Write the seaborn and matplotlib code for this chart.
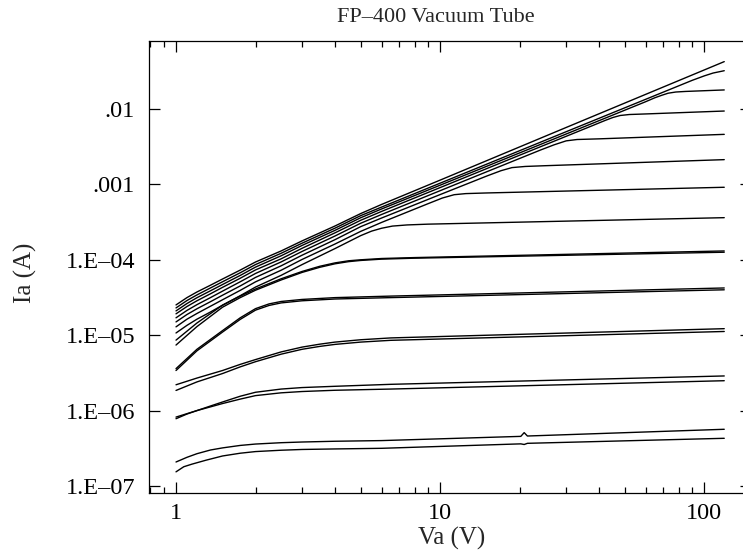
import matplotlib

matplotlib.use("Agg")

import matplotlib.pyplot as plt
import pandas as pd
import seaborn as sns
from matplotlib.ticker import LogLocator, NullFormatter, NullLocator

# plate voltage (V) / plate current (A), one pair of lists per trace
low_va = [1, 1.1, 1.2, 1.35, 1.5, 1.75, 2, 2.5, 3, 4, 5, 6]

va_top = low_va + [10, 30, 119]
ia_top = [2.52e-5, 3.15e-5, 3.74e-5, 4.6e-5, 5.56e-5, 7.3e-5, 9.35e-5, 1.31e-4, 1.78e-4,
          2.81e-4, 4.1e-4, 5.42e-4, 1.14e-3, 5.69e-3, 4.25e-2]

va_c1 = low_va + [30, 90, 100, 108, 119]
ia_c1 = [2.30e-5, 2.88e-5, 3.42e-5, 4.23e-5, 5.11e-5, 6.73e-5, 8.65e-5, 1.22e-4, 1.66e-4,
         2.63e-4, 3.85e-4, 5.0e-4, 5.0e-3, 2.40e-2, 2.75e-2, 3.0e-2, 3.22e-2]

va_c2 = low_va + [30, 60, 65, 69, 73, 78, 85, 119]
ia_c2 = [2.10e-5, 2.63e-5, 3.14e-5, 3.88e-5, 4.70e-5, 6.2e-5, 8.0e-5, 1.13e-4, 1.55e-4,
         2.46e-4, 3.61e-4, 4.72e-4, 4.66e-3, 1.25e-2, 1.41e-2, 1.52e-2, 1.62e-2, 1.68e-2,
         1.71e-2, 1.79e-2]

va_c3 = low_va + [20, 38, 42, 45, 48, 52, 60, 119]
ia_c3 = [1.92e-5, 2.4e-5, 2.86e-5, 3.54e-5, 4.31e-5, 5.69e-5, 7.34e-5, 1.03e-4, 1.42e-4,
         2.28e-4, 3.34e-4, 4.38e-4, 2.44e-3, 6.08e-3, 7.02e-3, 7.7e-3, 8.2e-3, 8.45e-3,
         8.6e-3, 9.4e-3]

va_c4 = low_va + [15, 24, 27, 30, 33, 40, 119]
ia_c4 = [1.70e-5, 2.13e-5, 2.54e-5, 3.15e-5, 3.84e-5, 5.11e-5, 6.59e-5, 9.37e-5, 1.29e-4,
         2.07e-4, 3.05e-4, 3.99e-4, 1.47e-3, 2.86e-3, 3.35e-3, 3.78e-3, 3.94e-3, 4.02e-3,
         4.61e-3]

va_c5 = low_va + [10, 15, 17, 18.7, 21, 25, 119]
ia_c5 = [1.50e-5, 1.88e-5, 2.24e-5, 2.78e-5, 3.39e-5, 4.5e-5, 5.84e-5, 8.32e-5, 1.15e-4,
         1.85e-4, 2.75e-4, 3.58e-4, 7.33e-4, 1.29e-3, 1.52e-3, 1.67e-3, 1.73e-3, 1.77e-3,
         2.13e-3]

va_c6 = low_va + [9, 10.2, 11.3, 12.5, 15, 119]
ia_c6 = [1.29e-5, 1.63e-5, 1.94e-5, 2.42e-5, 2.95e-5, 3.93e-5, 5.10e-5, 7.27e-5, 1.01e-4,
         1.62e-4, 2.38e-4, 3.13e-4, 5.55e-4, 6.6e-4, 7.3e-4, 7.55e-4, 7.7e-4, 9.16e-4]

va_c7 = [1, 1.1, 1.2, 1.35, 1.5, 1.75, 2, 2.5, 3, 4, 5, 5.5, 6, 6.6, 7.5, 9, 119]
ia_c7 = [1.07e-5, 1.35e-5, 1.63e-5, 2.03e-5, 2.5e-5, 3.34e-5, 4.35e-5, 6.22e-5, 8.63e-5,
         1.41e-4, 2.09e-4, 2.4e-4, 2.62e-4, 2.8e-4, 2.9e-4, 2.97e-4, 3.62e-4]

va_p1 = [1, 1.2, 1.5, 1.75, 2, 2.5, 3, 3.5, 4, 4.5, 5, 6, 8, 119]
ia_p1a = [8.6e-6, 1.45e-5, 2.5e-5, 3.3e-5, 4.1e-5, 5.6e-5, 7.0e-5, 8.2e-5, 9.1e-5, 9.7e-5,
          1.0e-4, 1.04e-4, 1.07e-4, 1.31e-4]
ia_p1b = [7.4e-6, 1.3e-5, 2.35e-5, 3.15e-5, 3.95e-5, 5.4e-5, 6.8e-5, 7.95e-5, 8.85e-5,
          9.45e-5, 9.8e-5, 1.02e-4, 1.05e-4, 1.26e-4]

va_p2 = [1, 1.2, 1.5, 1.75, 2, 2.25, 2.5, 3, 4, 6.5, 119]
ia_p2a = [3.6e-6, 6.5e-6, 1.15e-5, 1.7e-5, 2.25e-5, 2.6e-5, 2.8e-5, 2.98e-5, 3.15e-5,
          3.3e-5, 4.23e-5]
ia_p2b = [3.4e-6, 6.2e-6, 1.1e-5, 1.62e-5, 2.15e-5, 2.48e-5, 2.68e-5, 2.86e-5, 3.02e-5,
          3.15e-5, 4.0e-5]

va_p3 = [1, 1.2, 1.5, 1.75, 2, 2.5, 3, 3.5, 4, 5, 6.5, 10, 119]
ia_p3a = [2.2e-6, 2.7e-6, 3.4e-6, 4.1e-6, 4.75e-6, 6.0e-6, 6.95e-6, 7.6e-6, 8.1e-6, 8.7e-6,
          9.2e-6, 9.6e-6, 1.22e-5]
ia_p3b = [1.85e-6, 2.4e-6, 3.1e-6, 3.8e-6, 4.45e-6, 5.6e-6, 6.5e-6, 7.1e-6, 7.55e-6, 8.1e-6,
          8.55e-6, 8.9e-6, 1.12e-5]

va_p4 = [1, 1.1, 1.2, 1.35, 1.5, 1.75, 2, 2.5, 3, 4, 6.5, 119]
ia_p4a = [7.8e-7, 9.0e-7, 1.0e-6, 1.15e-6, 1.3e-6, 1.55e-6, 1.75e-6, 1.93e-6, 2.02e-6,
          2.1e-6, 2.23e-6, 2.88e-6]
ia_p4b = [8.2e-7, 9.1e-7, 1.0e-6, 1.12e-6, 1.24e-6, 1.42e-6, 1.58e-6, 1.72e-6, 1.79e-6,
          1.86e-6, 1.93e-6, 2.49e-6]

va_p5a = [1, 1.1, 1.2, 1.35, 1.5, 1.75, 2, 2.5, 3, 4, 6, 20.2, 20.8, 21.4, 119]
ia_p5a = [2.08e-7, 2.4e-7, 2.68e-7, 3.0e-7, 3.2e-7, 3.45e-7, 3.6e-7, 3.75e-7, 3.83e-7,
          3.92e-7, 4.0e-7, 4.55e-7, 5.1e-7, 4.6e-7, 5.65e-7]
va_p5b = [1, 1.07, 1.15, 1.3, 1.5, 1.75, 2, 2.5, 3, 4, 6, 20.2, 20.8, 21.4, 119]
ia_p5b = [1.54e-7, 1.8e-7, 1.95e-7, 2.2e-7, 2.5e-7, 2.72e-7, 2.86e-7, 2.98e-7, 3.05e-7,
          3.1e-7, 3.16e-7, 3.62e-7, 3.55e-7, 3.68e-7, 4.29e-7]

y_ticks = [1e-2, 1e-3, 1e-4, 1e-5, 1e-6, 1e-7]
y_labels = [".01", ".001", "1.E\u201304", "1.E\u201305", "1.E\u201306", "1.E\u201307"]
x_ticks = [1, 10, 100]
x_labels = ["1", "10", "100"]

traces = [
    ("top", va_top, ia_top), ("c1", va_c1, ia_c1), ("c2", va_c2, ia_c2),
    ("c3", va_c3, ia_c3), ("c4", va_c4, ia_c4), ("c5", va_c5, ia_c5),
    ("c6", va_c6, ia_c6), ("c7", va_c7, ia_c7),
    ("p1a", va_p1, ia_p1a), ("p1b", va_p1, ia_p1b),
    ("p2a", va_p2, ia_p2a), ("p2b", va_p2, ia_p2b),
    ("p3a", va_p3, ia_p3a), ("p3b", va_p3, ia_p3b),
    ("p4a", va_p4, ia_p4a), ("p4b", va_p4, ia_p4b),
    ("p5a", va_p5a, ia_p5a), ("p5b", va_p5b, ia_p5b),
]
frame = pd.concat(
    [pd.DataFrame({"curve": name, "Va": va, "Ia": ia}) for name, va, ia in traces],
    ignore_index=True,
)

sns.set_theme(style="ticks")
plt.rcParams["font.family"] = ["Liberation Serif", "DejaVu Serif"]

fig = plt.figure(figsize=(7.43, 5.54), dpi=100)
# right spine sits just past the picture edge, as in the original
ax = fig.add_axes([0.2005, 0.1101, 0.810, 0.8159])

sns.lineplot(data=frame, x="Va", y="Ia", units="curve", estimator=None, sort=False,
             color="black", linewidth=1.0, ax=ax)

ax.set(xscale="log", yscale="log")
ax.set_xlim(0.79, 150)
ax.set_ylim(8.07e-8, 7.98e-2)

ax.set_xticks(x_ticks, labels=x_labels)
ax.xaxis.set_minor_locator(LogLocator(base=10, subs=range(2, 10)))
ax.xaxis.set_minor_formatter(NullFormatter())
ax.set_yticks(y_ticks, labels=y_labels)
ax.yaxis.set_minor_locator(NullLocator())

ax.tick_params(which="both", direction="in", top=True, right=True, colors="black",
               width=0.9)
ax.tick_params(which="major", length=8, labelsize=17.5)
ax.tick_params(axis="x", which="major", pad=7)
ax.tick_params(axis="y", which="major", pad=10)
ax.tick_params(which="minor", length=4)
for spine in ax.spines.values():
    spine.set_color("black")
    spine.set_linewidth(0.9)

ax.set_xlabel("Va (V)", fontsize=18)
ax.set_ylabel("Ia (A)", fontsize=18)
ax.xaxis.set_label_coords(0.503, -0.075)
ax.yaxis.set_label_coords(-0.186, 0.487)

fig.text(0.587, 0.969, "FP\u2013400 Vacuum Tube", ha="center", va="center", fontsize=16)

fig.savefig("out.png", dpi=100)
